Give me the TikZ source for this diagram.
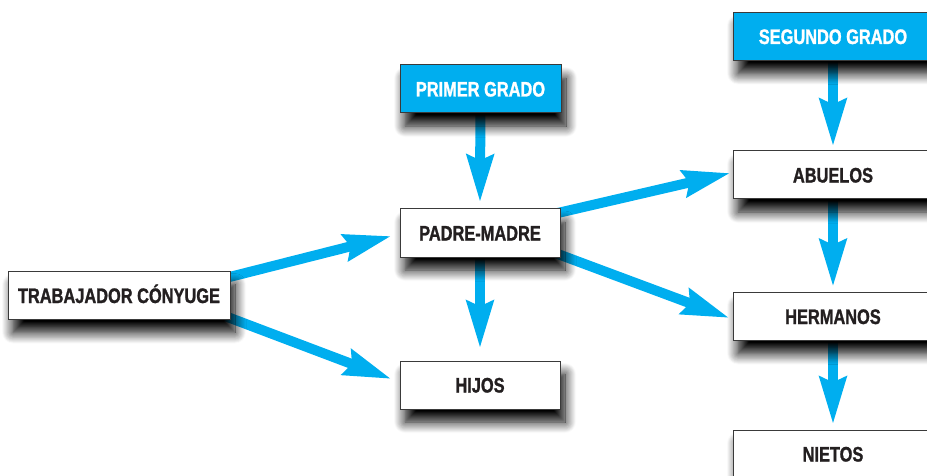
\documentclass[tikz,border=0pt]{standalone}
\usepackage{fontspec}
\setmainfont[FakeStretch=0.78, BoldFeatures={FakeBold=1.2}]{Liberation Sans}
\usepackage{tikz}
\usetikzlibrary{arrows.meta}
\usetikzlibrary{backgrounds}
\usetikzlibrary{shadows.blur}
\usepackage{xcolor}
\definecolor{celeste}{HTML}{00AEEF}
\definecolor{borde}{HTML}{3A3A3A}
\definecolor{texto}{HTML}{231F20}

\tikzset{
caja/.style={draw=borde, line width=1pt, fill=white, minimum height=48pt, inner sep=0pt,
  font=\fontsize{21}{25}\selectfont\bfseries, text=texto, text height=15pt, text depth=0pt,
  blur shadow={shadow xshift=5pt, shadow yshift=-13pt, shadow blur radius=11pt, shadow blur steps=12, shadow opacity=100}},
grado/.style={caja, fill=celeste, text=white},
flecha/.style={celeste, line width=10pt, -{Stealth[length=47pt, width=26pt, inset=5pt]}},
}

\begin{document}
\begin{tikzpicture}[x=1pt,y=-1pt]
\useasboundingbox (0,0) rectangle (927,476);

\node[grado, minimum width=161pt] (primer) at (480.5,89) {PRIMER GRADO};
\node[caja, minimum width=160pt] (padre) at (480,233) {PADRE-MADRE};
\node[caja, minimum width=222pt] (trab) at (119,295.5) {TRABAJADOR CÓNYUGE};
\node[caja, minimum width=160pt] (hijos) at (480,385) {HIJOS};

\node[grado, minimum width=200pt] (segundo) at (833,36.5) {SEGUNDO GRADO};
\node[caja, minimum width=200pt] (abuelos) at (833,175) {ABUELOS};
\node[caja, minimum width=200pt] (hermanos) at (833,316.5) {HERMANOS};
\node[caja, minimum width=200pt] (nietos) at (833,454) {NIETOS};

% flechas detras de las cajas
\begin{scope}[on background layer]
\draw[flecha] (primer) -- ([yshift=6pt]padre.north);
\draw[flecha] (padre) -- ([yshift=12pt]hijos.north);
\draw[flecha] ([yshift=-9.5pt]trab.center) -- ([xshift=-8pt,yshift=-3pt]padre.west);
\draw[flecha] ([yshift=19.5pt]trab.center) -- ([xshift=-8pt,yshift=6pt]hijos.west);
\draw[flecha] ([yshift=2pt]padre.center) -- ([xshift=-2pt,yshift=2pt]abuelos.west);
\draw[flecha] ([yshift=8pt]padre.center) -- ([xshift=-3pt,yshift=-1.5pt]hermanos.west);

\draw[flecha] (segundo) -- ([yshift=4pt]abuelos.north);
\draw[flecha] (abuelos) -- ([yshift=5pt]hermanos.north);
\draw[flecha] (hermanos) -- ([yshift=5pt]nietos.north);
\end{scope}

\end{tikzpicture}
\end{document}
